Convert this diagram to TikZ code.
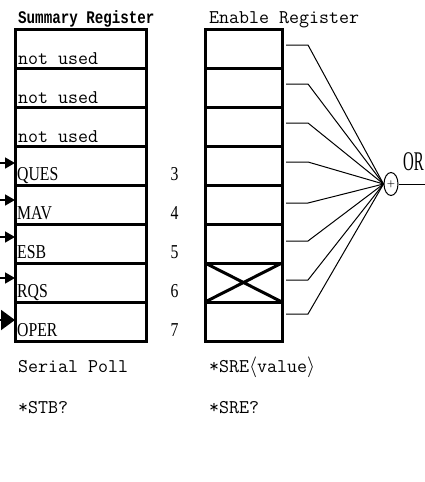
\documentclass[tikz,border=0pt]{standalone}
\usepackage{fontspec}
\newfontfamily\titlefont{Liberation Mono}
\newfontfamily\capfont{Liberation Serif}
\usetikzlibrary{arrows.meta,shapes.geometric,calc}
\newcommand{\captext}[1]{\scalebox{0.8}[1]{\fontsize{19.7}{20}\selectfont\capfont #1}}
\begin{document}
\begin{tikzpicture}[x=1pt,y=-1pt]
\tikzset{
  reg/.style={draw, line width=3pt, minimum height=39pt, inner sep=0pt, outer sep=0pt},
  sumrow/.style={reg, minimum width=131pt},
  enrow/.style={reg, minimum width=77pt},
  txt/.style={font=\fontsize{19.4}{20}\selectfont\ttfamily, inner sep=0pt, anchor=base west},
  ctxt/.style={inner sep=0pt, anchor=base west},
  num/.style={inner sep=0pt, anchor=base},
  wire/.style={line width=1pt},
  inarrow/.style={line width=1.6pt, -{Triangle[length=10pt,width=11pt]}},
  bigarrow/.style={line width=2pt, -{Triangle[length=14pt,width=20pt]}},
}
\useasboundingbox (0,0) rectangle (425,482);
% registers
\foreach \i in {0,...,7} {
  \node[sumrow] (s\i) at (80.5,{48.5+39*\i}) {};
  \node[enrow] (e\i) at (243.5,{48.5+39*\i}) {};
}
\draw[line width=3pt] (e6.north west) -- (e6.south east) (e6.south west) -- (e6.north east);
% titles
\node[inner sep=0pt, anchor=base west] (t1) at (18,23) {\scalebox{1}[1.25]{\fontsize{14.2}{15}\selectfont\titlefont\bfseries Summary Register}};
\node[txt] (t2) at (209,23) {Enable Register};
% row texts
\foreach \i in {0,1,2} \node[txt] (n\i) at (18,{64+39*\i}) {not used};
\node[ctxt] (q3) at (17,180) {\captext{QUES}};
\node[ctxt] (q4) at (17,219) {\captext{MAV}};
\node[ctxt] (q5) at (17,258) {\captext{ESB}};
\node[ctxt] (q6) at (17,297) {\captext{RQS}};
\node[ctxt] (q7) at (17,336) {\captext{OPER}};
\foreach \i in {3,...,7} \node[num] (b\i) at (174.5,{180+39*(\i-3)}) {\captext{\i}};
% bottom texts
\node[txt] (sp) at (18,372) {Serial Poll};
\node[txt] (stb) at (18,413) {*STB?};
\node[txt] (sre) at (209,372) {*SRE$\langle$value$\rangle$};
\node[txt] (srq) at (209,413) {*SRE?};
% OR gate
\node[ellipse, draw, line width=1pt, minimum width=14pt, minimum height=23pt, inner sep=0pt] (orgate) at (391,184) {\fontsize{9}{9}\selectfont\bfseries +};
\coordinate (orout) at (425,184);
\draw[wire] (orgate.east) -- (orout);
\node[inner sep=0pt, anchor=base west] (orlbl) at (403,170) {\scalebox{0.55}[1]{\fontsize{27}{28}\selectfont\capfont OR}};
% wires from enable register
\foreach \i/\d in {0/16,1/16,2/16,3/16,4/18,5/17,6/17,7/12} {
  \draw[wire] ($(e\i.north east)+(4,\d)$) -- ++(22,0) -- (orgate.west);
}
% input arrows
\foreach \i/\y in {3/163,4/200,5/237,6/278} {
  \coordinate (a\i) at (0,\y);
  \draw[inarrow] (a\i) -- (s\i.west |- a\i);
}
\coordinate (a7) at (0,320);
\draw[bigarrow] (a7) -- (s7.west |- a7);
\end{tikzpicture}
\end{document}
